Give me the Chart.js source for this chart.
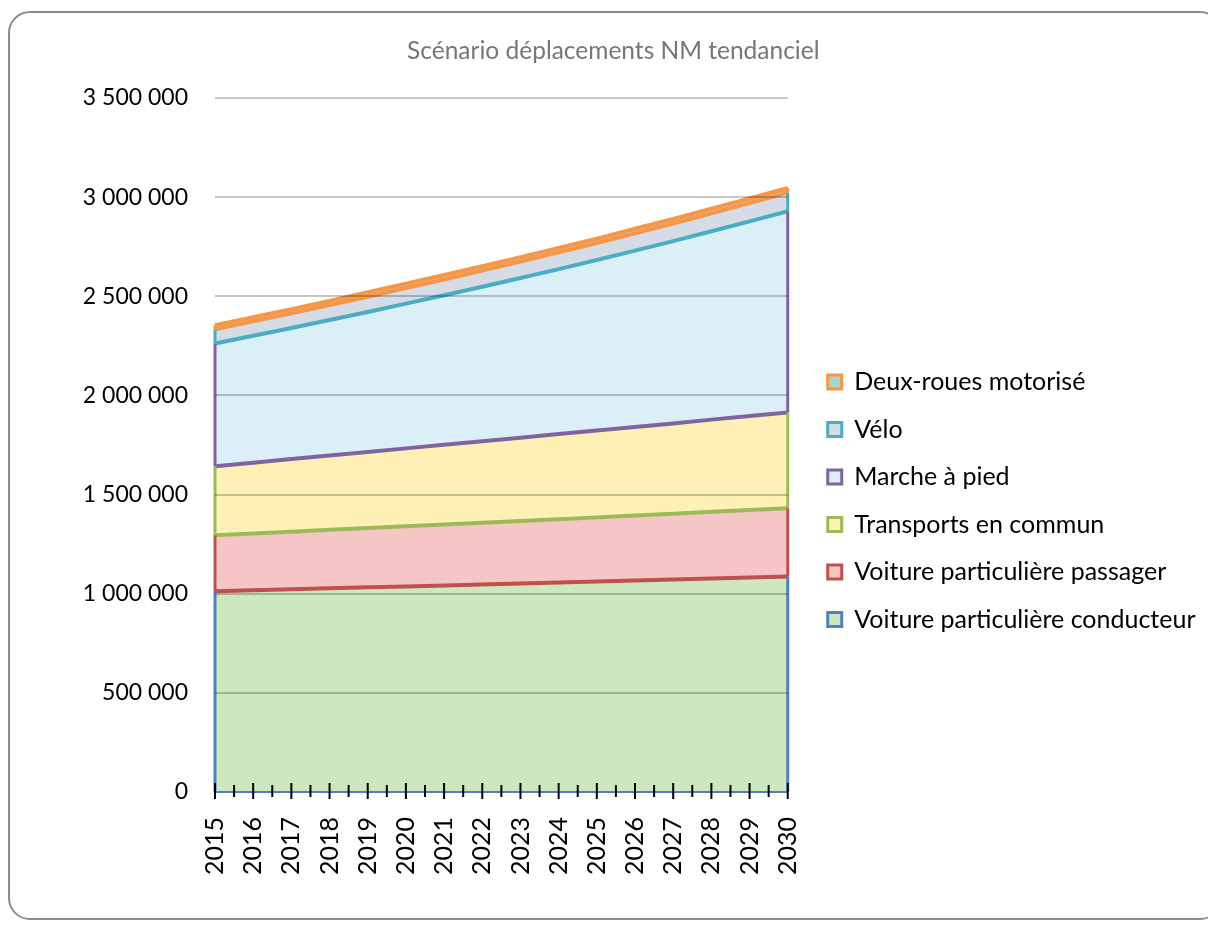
<!DOCTYPE html>
<html lang="fr">
<head>
<meta charset="utf-8">
<title>Scénario déplacements NM tendanciel</title>
<script src="https://cdn.jsdelivr.net/npm/chart.js@4.4.1/dist/chart.umd.min.js"></script>
<style>
  html, body { margin: 0; padding: 0; background: #fff; overflow: hidden; }
  #cadre { position: absolute; left: 8px; top: 11px; width: 1214px; height: 909px; box-sizing: border-box; border: 2px solid #8c8c8c; border-radius: 22px; }
  #graphique { position: absolute; left: 0; top: 0; }
</style>
</head>
<body>
<div id="cadre"></div>
<canvas id="graphique" width="1208" height="928"></canvas>
<script>
// déplacements par jour, par mode (empilés de bas en haut)
const annees = ['2015', '2016', '2017', '2018', '2019', '2020', '2021', '2022', '2023', '2024', '2025', '2026', '2027', '2028', '2029', '2030'];
const conducteur = [1012000, 1017000, 1022000, 1027000, 1032000, 1037000, 1042000, 1047000, 1052000, 1057000, 1062000, 1067000, 1072000, 1077000, 1082000, 1087000];
const passager = [283000, 287000, 291000, 295000, 299000, 303000, 307000, 311000, 315000, 319000, 323000, 327000, 331000, 336000, 340000, 344000];
const transports = [348000, 357000, 366000, 375000, 384000, 393000, 402000, 411000, 420000, 429000, 438000, 447000, 456000, 465000, 474000, 483000];
const marche = [619000, 640000, 661000, 683000, 706000, 730000, 754000, 779000, 805000, 832000, 860000, 889000, 919000, 950000, 982000, 1015000];
const velo = [71000, 73000, 74000, 76000, 77000, 79000, 80000, 82000, 83000, 85000, 86000, 88000, 89000, 91000, 92000, 94000];
const deuxRoues = [21000, 21000, 21000, 21000, 22000, 22000, 22000, 22000, 22000, 22000, 22000, 23000, 23000, 23000, 23000, 23000];

const modes = ['Voiture particulière conducteur', 'Voiture particulière passager', 'Transports en commun', 'Marche à pied', 'Vélo', 'Deux-roues motorisé'];
const valeurs = [conducteur, passager, transports, marche, velo, deuxRoues];

const couleurs = ['#4F81BD', '#C0504D', '#9BBB59', '#8064A2', '#4BACC6', '#F79646'];
const remplissages = ['#CDE8BE', '#F6C6C6', '#FFF1B6', '#DBEFF8', '#D5DCE5', '#A9D5CB'];

function espacer(v) {
  return String(v).replace(/\B(?=(\d{3})+(?!\d))/g, ' ');
}

// bords verticaux des aires + axe des abscisses avec graduations
const bordsAires = {
  id: 'bordsAires',
  afterDatasetsDraw(chart) {
    const ctx = chart.ctx;
    const zero = chart.scales.y.getPixelForValue(0);
    ctx.save();
    ctx.lineWidth = 3;
    chart.data.datasets.forEach((ds, i) => {
      const meta = chart.getDatasetMeta(i);
      const prec = i > 0 ? chart.getDatasetMeta(i - 1) : null;
      [0, meta.data.length - 1].forEach(k => {
        const pt = meta.data[k];
        const bas = prec ? prec.data[k].y : zero;
        ctx.strokeStyle = couleurs[i];
        ctx.beginPath();
        ctx.moveTo(pt.x, bas);
        ctx.lineTo(pt.x, pt.y);
        ctx.stroke();
      });
    });
    ctx.restore();
  },
  afterDraw(chart) {
    const ctx = chart.ctx;
    const x = chart.scales.x;
    const zero = chart.scales.y.getPixelForValue(0);
    ctx.save();
    ctx.strokeStyle = couleurs[0];
    ctx.lineWidth = 2;
    ctx.beginPath();
    ctx.moveTo(chart.chartArea.left, zero);
    ctx.lineTo(chart.chartArea.right, zero);
    ctx.stroke();
    ctx.strokeStyle = '#000';
    const n = x.ticks.length;
    for (let i = 0; i < n; i++) {
      const px = x.getPixelForTick(i);
      ctx.beginPath();
      ctx.moveTo(px, zero - 9);
      ctx.lineTo(px, zero + 7);
      ctx.stroke();
      if (i < n - 1) {
        const mid = (px + x.getPixelForTick(i + 1)) / 2;
        ctx.beginPath();
        ctx.moveTo(mid, zero - 7);
        ctx.lineTo(mid, zero + 5);
        ctx.stroke();
      }
    }
    ctx.restore();
  }
};

Chart.defaults.font.family = 'Lato';

const ctx = document.getElementById('graphique').getContext('2d');
const graphique = new Chart(ctx, {
  type: 'line',
  data: {
    labels: annees,
    datasets: valeurs.map((data, i) => ({
      label: modes[i],
      data: data,
      fill: i === 0 ? 'origin' : '-1',
      backgroundColor: remplissages[i],
      // le trait du haut prend la couleur de l'aire posée au-dessus
      borderColor: couleurs[Math.min(i + 1, couleurs.length - 1)],
      borderWidth: 4,
      borderJoinStyle: 'round',
      pointRadius: 0,
      tension: 0
    }))
  },
  options: {
    responsive: false,
    animation: false,
    devicePixelRatio: 1,
    layout: { padding: { left: 21, right: 2.5, top: 0, bottom: 0 } },
    plugins: {
      title: {
        display: true,
        text: 'Scénario déplacements NM tendanciel',
        color: '#767676',
        font: { size: 24.5, weight: 'normal' },
        padding: { top: 36, bottom: 32.6 }
      },
      legend: {
        position: 'right',
        reverse: true,
        maxWidth: 600,
        title: { display: true, text: ' ', font: { size: 10, lineHeight: 1 }, padding: { top: 0, bottom: 63.5 } },
        labels: {
          boxWidth: 14,
          boxHeight: 14,
          padding: 22.5,
          color: '#000',
          font: { size: 25 },
          generateLabels: chart => chart.data.datasets.map((ds, i) => ({
            text: ds.label,
            fillStyle: remplissages[i],
            strokeStyle: couleurs[i],
            lineWidth: 3,
            hidden: false,
            datasetIndex: i,
            fontColor: '#000'
          }))
        }
      },
      tooltip: { enabled: false }
    },
    scales: {
      x: {
        grid: { display: false },
        border: { display: false },
        ticks: { autoSkip: false, minRotation: 90, maxRotation: 90, padding: 17, color: '#000', font: { size: 25 } },
        afterFit(s) { s.height = 136; }
      },
      y: {
        stacked: true,
        min: 0,
        max: 3500000,
        grid: { z: 1, color: 'rgba(0,0,0,0.22)', lineWidth: 2, drawTicks: false },
        border: { display: false },
        ticks: { stepSize: 500000, padding: 27, color: '#000', font: { size: 23 }, callback: v => espacer(v) },
        afterFit(s) { s.width = 194; }
      },
      marge: {
        type: 'linear',
        position: 'right',
        display: true,
        grid: { display: false, drawTicks: false },
        border: { display: false },
        ticks: { display: false },
        afterFit(s) { s.width = 17.5; }
      }
    }
  },
  plugins: [bordsAires]
});
</script>
</body>
</html>
